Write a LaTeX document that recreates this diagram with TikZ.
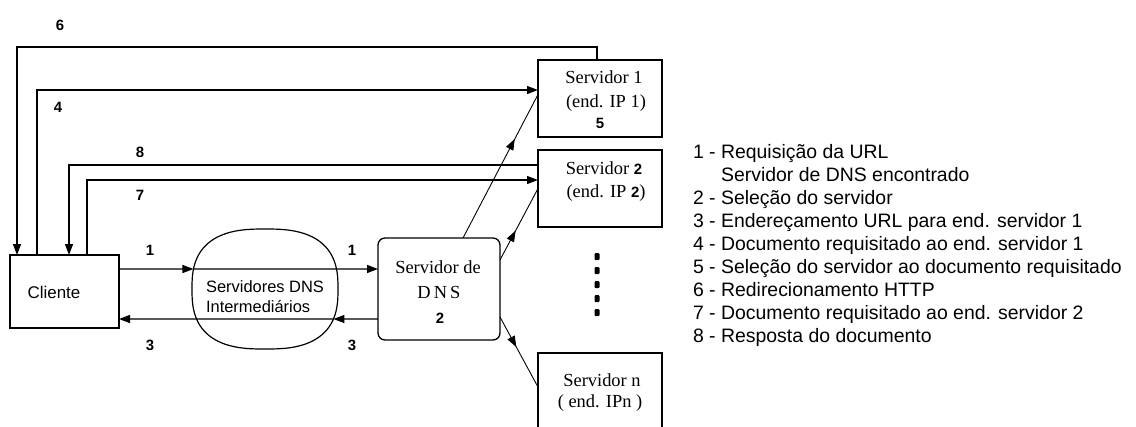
\documentclass[tikz,border=0pt]{standalone}
\usepackage{fontspec}
\setmainfont{Liberation Serif}
\setsansfont{Liberation Sans}
\usetikzlibrary{arrows.meta,decorations.markings,intersections,calc}

\begin{document}
\begin{tikzpicture}[x=1bp,y=-1bp,
  every node/.style={inner sep=0pt, outer sep=0pt},
  box/.style={draw, line width=1.3bp, minimum width=124bp, minimum height=77bp},
  wire/.style={line width=1.2bp},
  thinwire/.style={line width=0.9bp},
  tip/.style={-{Triangle[length=11bp,width=8bp]}},
  midtip/.style={postaction={decorate}, decoration={markings,
      mark=at position #1 with {\arrow{Triangle[length=11bp,width=8bp]}}}},
  num/.style={font=\sffamily\bfseries\fontsize{15}{15}\selectfont},
  srv/.style={font=\fontsize{18.5}{22}\selectfont},
  sans/.style={font=\sffamily\fontsize{16.5}{20}\selectfont},
  leg/.style={font=\sffamily\fontsize{19.5}{23}\selectfont, anchor=base west},
]
\useasboundingbox (0,0) rectangle (1136,426);

% --- boxes -------------------------------------------------------------
\node[box, minimum width=109bp, minimum height=73bp] (cli) at (64.5,291.5) {};
\node[sans, font=\sffamily\fontsize{17}{20}\selectfont] (cliT) at (54,292) {Cliente};

\node[box] (s1) at (600,98.5) {};
\node[box] (s2) at (600,188.5) {};
\node[box, minimum height=87bp] (sn) at (600,396.5) {};

\node[draw, line width=1.3bp, rounded corners=7bp,
      minimum width=122bp, minimum height=102bp] (dns) at (439,289) {};

% intermediate DNS servers: a rounded blob
\draw[line width=1.2bp, name path=blob]
  plot[domain=1:361, samples=101, smooth cycle]
  ({265 + 73*sign(cos(\x))*abs(cos(\x))^0.75},
   {289 + 60*sign(sin(\x))*abs(sin(\x))^0.75});
\node[sans, align=left] (mid) at (265,297) {Servidores DNS\\Intermediários};

% --- texts inside boxes -------------------------------------------------
\node[srv] (s1a) at (604,77) {Servidor 1};
\node[srv] (s1b) at (606,103) {(end. IP 1)};
\node[num] (s1c) at (600,123) {5};

\node[srv] (s2a) at (604,168) {Servidor {\sffamily\bfseries\fontsize{15}{15}\selectfont 2}};
\node[srv] (s2b) at (606,193) {(end. IP {\sffamily\bfseries\fontsize{15}{15}\selectfont 2})};

\node[srv] (sna) at (602,380) {Servidor n};
\node[srv] (snb) at (600,403) {( end. IPn )};

\node[srv] (dnsa) at (438,267) {Servidor de};
\node[srv] (dnsb) at (439,292) {D\,N\,S};
\node[num] (dnsc) at (440,318) {2};

% --- loops above the client ---------------------------------------------
\coordinate (c6) at (17,47);
\coordinate (c4) at (37,90);
\coordinate (c8) at (69,165);
\coordinate (c7) at (87,180);

\draw[wire,tip] ($(s1.north)+(-3,0)$) |- (c6) -- (c6 |- cli.north);
\draw[wire,tip] (c4 |- cli.north) -- (c4) -- (c4 -| s1.west);
\draw[wire,tip] (c8 -| s2.west) -- (c8) -- (c8 |- cli.north);
\draw[wire,tip] (c7 |- cli.north) -- (c7) -- (c7 -| s2.west);

\node[num] (l6) at (60,25) {6};
\node[num] (l4) at (58,107) {4};
\node[num] (l8) at (140,152) {8};
\node[num] (l7) at (140,195) {7};

% --- request / answer through the intermediate servers -------------------
\coordinate (c1) at (0,269);
\coordinate (c3) at (0,319);
\path[name path=p1] (c1 -| cli.east) -- (c1 -| dns.west);
\path[name path=p3] (c3 -| dns.west) -- (c3 -| cli.east);
\path[name intersections={of=blob and p1, sort by=p1, by={b1,b1x}}];
\path[name intersections={of=blob and p3, sort by=p3, by={b3,b3x}}];

\draw[wire,tip] (c1 -| cli.east) -- (b1);
\draw[wire,tip] (b1) -- (c1 -| dns.west);
\draw[wire,tip] (c3 -| dns.west) -- (b3);
\draw[wire,tip] (b3) -- (c3 -| cli.east);

\node[num] (l1a) at (150,250) {1};
\node[num] (l1b) at (352,250) {1};
\node[num] (l3a) at (150,345) {3};
\node[num] (l3b) at (352,345) {3};

% --- DNS server to the content servers ---------------------------------
\draw[thinwire, midtip=0.69] ($(dns.north)+(24,0)$) -- ($(s1.west)+(0,-4)$);
\draw[thinwire, midtip=0.41] ($(dns.east)+(0,-29)$) -- (s2.west);
\draw[thinwire, midtip=0.43] ($(dns.east)+(0,28)$) -- ($(sn.north west)+(0,34)$);

% vertical ellipsis between server 2 and server n
\foreach \k in {0,...,4}
  \fill[rounded corners=1bp] ({594.5},{253+14*\k}) rectangle ++(5,7);

% --- legend ------------------------------------------------------------
\foreach \t [count=\i] in {
  1 - Requisição da URL,
  \phantom{1 - }Servidor de DNS encontrado,
  2 - Seleção do servidor,
  3 - Endereçamento URL para end. servidor 1,
  4 - Documento requisitado ao end. servidor 1,
  5 - Seleção do servidor ao documento requisitado,
  6 - Redirecionamento HTTP,
  7 - Documento requisitado ao end. servidor 2,
  8 - Resposta do documento}
  \node[leg] (leg\i) at (693,{135+23*\i}) {\t};
\end{tikzpicture}
\end{document}
